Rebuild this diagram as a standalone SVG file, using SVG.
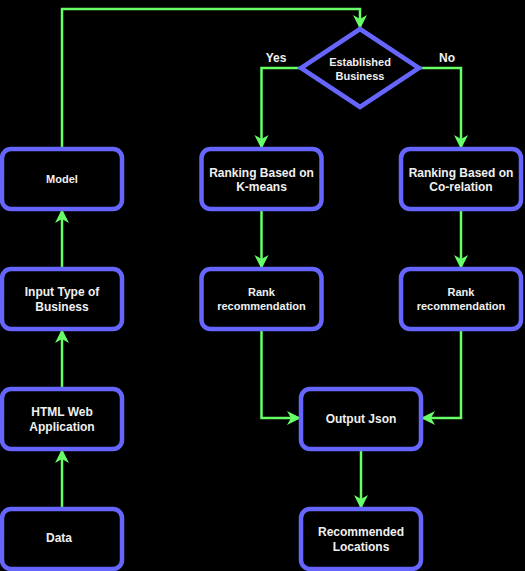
<svg xmlns="http://www.w3.org/2000/svg" width="525" height="571" viewBox="0 0 525 571">
<style>
.bg{fill:#000000}
.box{fill:#000000;stroke:#6666FF;stroke-width:4.5}
.edge{fill:none;stroke:#66FF66;stroke-width:2.5}
.t{font-family:"Liberation Sans",Arial,sans-serif;font-weight:bold;fill:#F0F0F0;text-anchor:middle}
.s12{font-size:12px}
.s11{font-size:11px}
</style>
<defs>
<marker id="arr" viewBox="-15 -8 16 16" refX="0" refY="0" markerWidth="16" markerHeight="16" markerUnits="userSpaceOnUse" orient="auto">
<path d="M0,0 L-14,-7 L-10,0 L-14,7 Z" fill="#66FF66"/>
</marker>
</defs>
<rect class="bg" x="0" y="0" width="525" height="571"/>
<g id="connectors">
<path class="edge" d="M62,149 V9 H360 V29" marker-end="url(#arr)"/>
<path class="edge" d="M301,68 H261.5 V149" marker-end="url(#arr)"/>
<path class="edge" d="M419,68 H461 V149" marker-end="url(#arr)"/>
<path class="edge" d="M261.5,209 V269" marker-end="url(#arr)"/>
<path class="edge" d="M461,209 V269" marker-end="url(#arr)"/>
<path class="edge" d="M261.5,329 V418 H301" marker-end="url(#arr)"/>
<path class="edge" d="M461,329 V418 H421" marker-end="url(#arr)"/>
<path class="edge" d="M361,449 V509" marker-end="url(#arr)"/>
<path class="edge" d="M62,509 V449" marker-end="url(#arr)"/>
<path class="edge" d="M62,389 V329" marker-end="url(#arr)"/>
<path class="edge" d="M62,269 V209" marker-end="url(#arr)"/>
<text class="t s12" x="276" y="62">Yes</text>
<text class="t s12" x="447" y="62">No</text>
</g>
<g id="decision">
<polygon class="box" points="360,29 419,68 360,107 301,68"/>
<text class="t s11" x="360" y="65.5">Established</text>
<text class="t s11" x="360" y="79.5">Business</text>
</g>
<g id="model">
<rect class="box" x="2" y="149" width="120" height="60" rx="9"/>
<text class="t s11" x="62" y="183">Model</text>
</g>
<g id="input-type">
<rect class="box" x="2" y="269" width="120" height="60" rx="9"/>
<text class="t s12" x="62" y="296">Input Type of</text>
<text class="t s12" x="62" y="311">Business</text>
</g>
<g id="html-web">
<rect class="box" x="2" y="389" width="120" height="60" rx="9"/>
<text class="t s12" x="62" y="416">HTML Web</text>
<text class="t s12" x="62" y="431">Application</text>
</g>
<g id="data">
<rect class="box" x="2" y="509" width="120" height="60" rx="9"/>
<text class="t s12" x="59" y="541.5">Data</text>
</g>
<g id="rank-kmeans">
<rect class="box" x="201.5" y="149" width="120" height="60" rx="9"/>
<text class="t s12" x="261.5" y="176.5">Ranking Based on</text>
<text class="t s12" x="261.5" y="191">K-means</text>
</g>
<g id="rank-corr">
<rect class="box" x="401" y="149" width="120" height="60" rx="9"/>
<text class="t s12" x="461" y="176.5">Ranking Based on</text>
<text class="t s12" x="461" y="191">Co-relation</text>
</g>
<g id="rank-rec-1">
<rect class="box" x="201.5" y="269" width="120" height="60" rx="9"/>
<text class="t s11" x="261.5" y="295.5">Rank</text>
<text class="t s11" x="261.5" y="309.5">recommendation</text>
</g>
<g id="rank-rec-2">
<rect class="box" x="401" y="269" width="120" height="60" rx="9"/>
<text class="t s11" x="461" y="295.5">Rank</text>
<text class="t s11" x="461" y="309.5">recommendation</text>
</g>
<g id="output-json">
<rect class="box" x="301" y="389" width="120" height="60" rx="9"/>
<text class="t s12" x="361" y="422.5">Output Json</text>
</g>
<g id="recommended">
<rect class="box" x="301" y="509" width="120" height="60" rx="9"/>
<text class="t s12" x="361" y="536">Recommended</text>
<text class="t s12" x="361" y="551">Locations</text>
</g>
</svg>
